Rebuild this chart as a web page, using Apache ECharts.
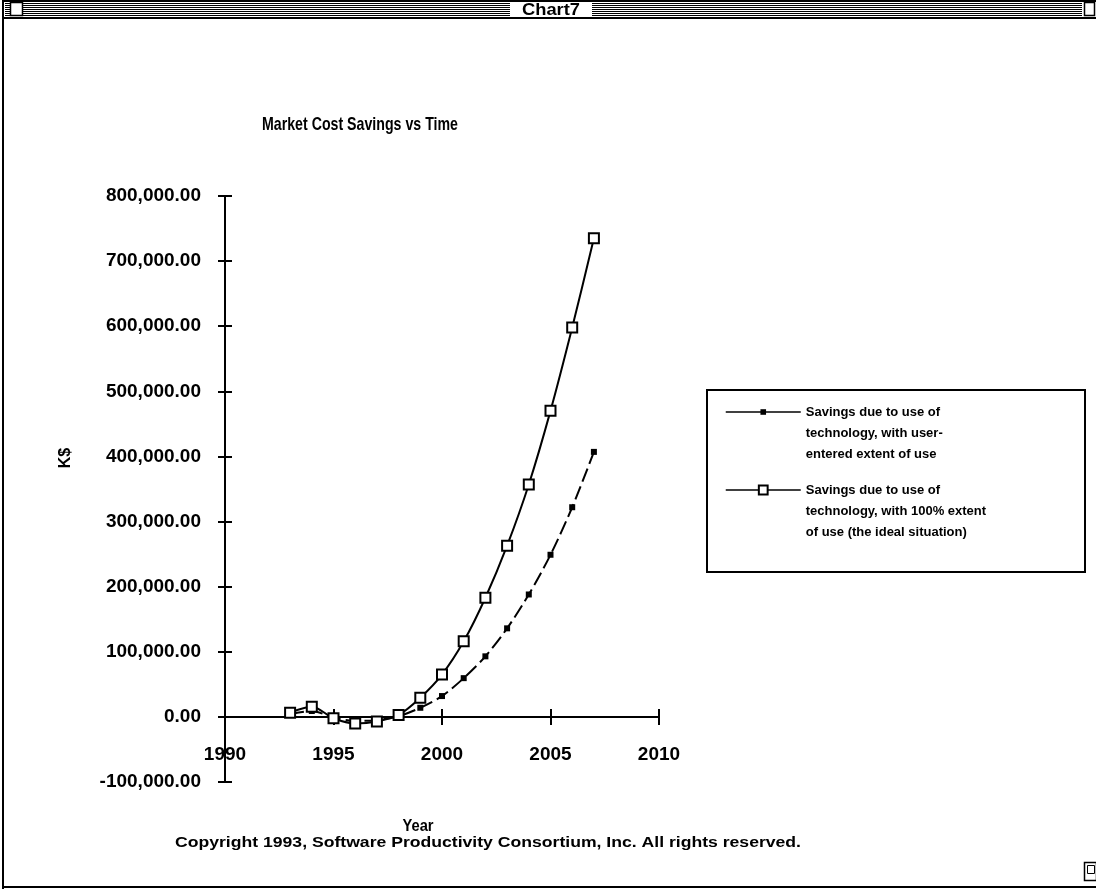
<!DOCTYPE html>
<html>
<head>
<meta charset="utf-8">
<script src="https://cdn.jsdelivr.net/npm/echarts@6/dist/echarts.min.js"></script>
<style>
html,body{margin:0;padding:0;background:#fff;}
#chart{width:1096px;height:890px;}
</style>
</head>
<body>
<div id="chart"></div>
<script>
// ---- data ----
const chartTitle = 'Market Cost Savings vs Time';
const windowTitle = 'Chart7';
const years = [1993, 1994, 1995, 1996, 1997, 1998, 1999, 2000, 2001, 2002, 2003, 2004, 2005, 2006, 2007];
const userExtentSavings = [4000, 9000, -1000, -6000, -5000, 1000, 14000, 32000, 59500, 93000, 136000, 188000, 249000, 322000, 407000];
const fullExtentSavings = [6500, 15500, -2000, -10000, -7000, 3000, 29500, 65000, 116000, 183000, 263000, 357000, 470000, 598000, 735000];
const seriesNames = [
  'Savings due to use of\ntechnology, with user-\nentered extent of use',
  'Savings due to use of\ntechnology, with 100% extent\nof use (the ideal situation)'
];
const xAxisName = 'Year';
const yAxisName = 'K$';
const copyrightText = 'Copyright 1993, Software Productivity Consortium, Inc. All rights reserved.';
const xMin = 1990, xMax = 2010, xStep = 5;
const yMin = -100000, yMax = 800000, yStep = 100000;

const SANS = "'Liberation Sans', Arial, sans-serif";

function pairs(xs, ys) { return xs.map((x, i) => [x, ys[i]]); }
function fmtY(v) { return v.toLocaleString('en-US', {minimumFractionDigits: 2, maximumFractionDigits: 2}); }
const measureCtx = document.createElement('canvas').getContext('2d');
function fitScale(text, font, targetWidth) {
  measureCtx.font = font;
  return targetWidth / measureCtx.measureText(text).width;
}

const chart = echarts.init(document.getElementById('chart'), null, {renderer: 'canvas'});

// window chrome (title bar stripes etc.)
const chrome = [];
for (let y = 3; y <= 15; y += 2) {
  chrome.push({type: 'rect', shape: {x: 5, y: y, width: 505, height: 1}, style: {fill: '#000'}, silent: true});
  chrome.push({type: 'rect', shape: {x: 592, y: y, width: 490, height: 1}, style: {fill: '#000'}, silent: true});
}
chrome.push({type: 'rect', shape: {x: 10.5, y: 2.5, width: 12, height: 13}, style: {fill: '#fff', stroke: '#000', lineWidth: 1.5}, silent: true});
chrome.push({type: 'rect', shape: {x: 1084.5, y: 2.5, width: 10, height: 13}, style: {fill: '#fff', stroke: '#000', lineWidth: 1.5}, silent: true});
chrome.push({type: 'rect', shape: {x: 2, y: 0, width: 1094, height: 2}, style: {fill: '#000'}, silent: true});
chrome.push({type: 'rect', shape: {x: 2, y: 17, width: 1094, height: 2}, style: {fill: '#000'}, silent: true});
chrome.push({type: 'rect', shape: {x: 2, y: 0, width: 2, height: 889}, style: {fill: '#000'}, silent: true});
chrome.push({type: 'rect', shape: {x: 2, y: 886, width: 1094, height: 2}, style: {fill: '#000'}, silent: true});
chrome.push({type: 'rect', shape: {x: 1084.5, y: 862.5, width: 12, height: 18}, style: {fill: '#fff', stroke: '#000', lineWidth: 1.5}, silent: true});
chrome.push({type: 'rect', shape: {x: 1087.5, y: 865.5, width: 7, height: 8}, style: {fill: '#fff', stroke: '#000', lineWidth: 1}, silent: true});
const wtFont = "bold 17px " + SANS;
chrome.push({type: 'text', x: 551, y: 10, scaleX: fitScale(windowTitle, wtFont, 58), style: {text: windowTitle, font: wtFont, fill: '#000', align: 'center', verticalAlign: 'middle'}, silent: true});
// chart title
const titleFont = "bold 19px " + SANS;
chrome.push({type: 'text', x: 360, y: 125, scaleX: fitScale(chartTitle, titleFont, 196), style: {text: chartTitle, font: titleFont, fill: '#000', align: 'center', verticalAlign: 'middle'}, silent: true});
// legend frame
chrome.push({type: 'rect', shape: {x: 707, y: 390, width: 378, height: 182}, style: {fill: 'none', stroke: '#000', lineWidth: 2}, silent: true});
// axis names and footer
chrome.push({type: 'text', x: 66, y: 458, rotation: Math.PI / 2, style: {text: yAxisName, font: "bold 16px " + SANS, fill: '#000', align: 'center', verticalAlign: 'middle'}, silent: true});
const yearFont = "bold 16px " + SANS;
chrome.push({type: 'text', x: 418, y: 827, scaleX: fitScale(xAxisName, yearFont, 31), style: {text: xAxisName, font: yearFont, fill: '#000', align: 'center', verticalAlign: 'middle'}, silent: true});
const cpFont = "bold 15px " + SANS;
chrome.push({type: 'text', x: 488, y: 843, scaleX: fitScale(copyrightText, cpFont, 626), style: {text: copyrightText, font: cpFont, fill: '#000', align: 'center', verticalAlign: 'middle'}, silent: true});

const legendText = {fontFamily: SANS, fontWeight: 'bold', fontSize: 13, color: '#000', lineHeight: 21};

const option = {
  animation: false,
  backgroundColor: '#fff',
  legend: [
    {
      data: [seriesNames[0]], left: 725, top: 412 - 52.5, padding: 0,
      itemWidth: 75, itemHeight: 7, itemGap: 0, selectedMode: false,
      formatter: n => '\n\n' + n,
      lineStyle: {type: 'solid', width: 1.5},
      textStyle: legendText
    },
    {
      data: [seriesNames[1]], left: 725, top: 490 - 52.5, padding: 0,
      itemWidth: 75, itemHeight: 11, itemGap: 0, selectedMode: false,
      formatter: n => '\n\n' + n,
      lineStyle: {type: 'solid', width: 1.5},
      textStyle: legendText
    }
  ],
  grid: {left: 225, right: 437, top: 196, bottom: 108},
  xAxis: [
    {
      type: 'value', min: xMin, max: xMax, interval: xStep,
      axisLine: {onZero: true, lineStyle: {color: '#000', width: 2}},
      axisTick: {show: true, inside: false, length: 8, lineStyle: {color: '#000', width: 2}},
      axisLabel: {margin: -37, color: '#000', fontFamily: SANS, fontWeight: 'bold', fontSize: 19, formatter: v => String(v)},
      splitLine: {show: false}
    },
    {
      type: 'value', min: xMin, max: xMax, interval: xStep, position: 'bottom',
      axisLine: {onZero: true, lineStyle: {color: '#000', width: 2}},
      axisTick: {show: true, inside: true, length: 8, lineStyle: {color: '#000', width: 2}},
      axisLabel: {show: false},
      splitLine: {show: false}
    }
  ],
  yAxis: [
    {
      type: 'value', min: yMin, max: yMax, interval: yStep,
      axisLine: {show: true, onZero: false, lineStyle: {color: '#000', width: 2}},
      axisTick: {show: true, inside: false, length: 7, lineStyle: {color: '#000', width: 2}},
      axisLabel: {margin: 24, color: '#000', fontFamily: SANS, fontWeight: 'bold', fontSize: 19, formatter: fmtY},
      splitLine: {show: false}
    },
    {
      type: 'value', min: yMin, max: yMax, interval: yStep, position: 'left', offset: 0,
      axisLine: {show: true, onZero: false, lineStyle: {color: '#000', width: 2}},
      axisTick: {show: true, inside: true, length: 7, lineStyle: {color: '#000', width: 2}},
      axisLabel: {show: false},
      splitLine: {show: false}
    }
  ],
  graphic: chrome,
  series: [
    {
      name: seriesNames[0], type: 'line', xAxisIndex: 0, yAxisIndex: 0,
      data: pairs(years, userExtentSavings),
      smooth: 0.3, symbol: 'rect', symbolSize: 6, showSymbol: true,
      lineStyle: {color: '#000', width: 2, type: [14, 5]},
      itemStyle: {color: '#000', borderColor: '#000', borderWidth: 0},
      z: 3
    },
    {
      name: seriesNames[1], type: 'line', xAxisIndex: 0, yAxisIndex: 0,
      data: pairs(years, fullExtentSavings),
      smooth: 0.3, symbol: 'rect', symbolSize: 10, showSymbol: true,
      lineStyle: {color: '#000', width: 2},
      itemStyle: {color: '#fff', borderColor: '#000', borderWidth: 2},
      z: 4
    }
  ]
};
chart.setOption(option);
</script>
</body>
</html>
